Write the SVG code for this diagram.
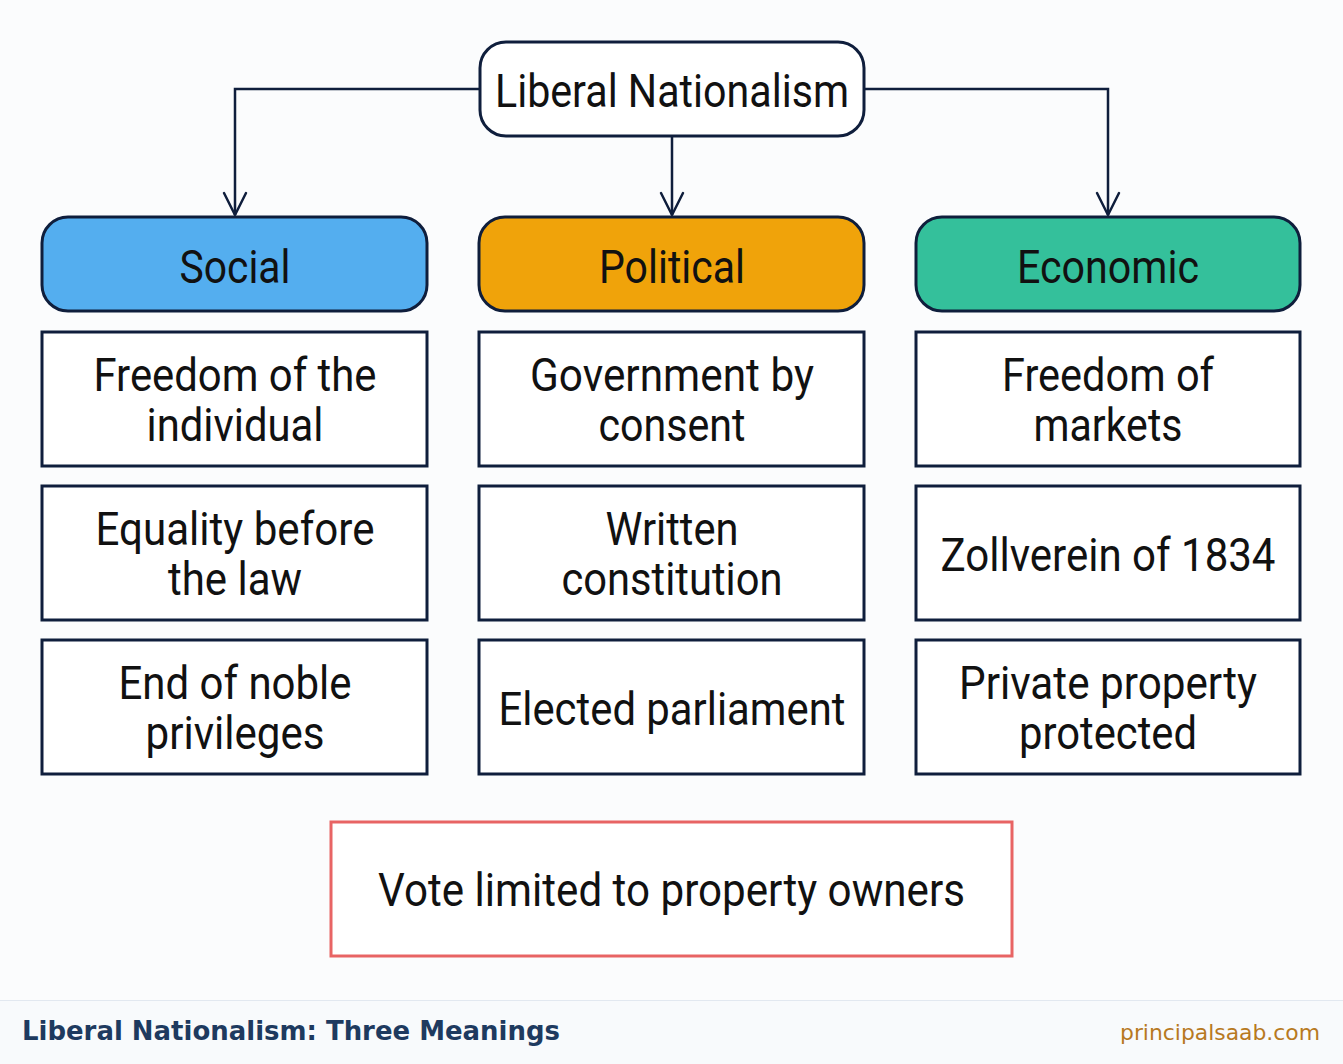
<svg xmlns="http://www.w3.org/2000/svg" width="1343" height="1064" viewBox="0 0 1343 1064">
<style>
.t{font-family:Roboto,"Liberation Sans",sans-serif;font-size:47px;fill:#111111;text-anchor:middle}
.box{fill:#ffffff;stroke:#0f1e3c;stroke-width:3}
.hdr{stroke:#0f1e3c;stroke-width:3}
.con{fill:none;stroke:#0f1e3c;stroke-width:2.5}
.arr{fill:none;stroke:#0f1e3c;stroke-width:2.5;stroke-linecap:round;stroke-linejoin:round}
</style>
<rect x="0" y="0" width="1343" height="1064" fill="#fbfcfd"/>
<g id="connectors">
<path class="con" d="M480,89 H235 V215"/>
<path class="con" d="M672,136 V215"/>
<path class="con" d="M864,89 H1108 V215"/>
<path class="arr" d="M224,193 L235,215 L246,193"/>
<path class="arr" d="M661,193 L672,215 L683,193"/>
<path class="arr" d="M1097,193 L1108,215 L1119,193"/>
</g>
<g id="root">
<rect class="box" x="480" y="42" width="384" height="94" rx="26"/>
<text class="t" x="672" y="107" textLength="354" lengthAdjust="spacingAndGlyphs">Liberal Nationalism</text>
</g>
<g id="social">
<rect class="hdr" x="42" y="217" width="385" height="94" rx="26" fill="#54aeef"/>
<text class="t" x="235" y="283" textLength="111" lengthAdjust="spacingAndGlyphs">Social</text>
</g>
<g id="political">
<rect class="hdr" x="479" y="217" width="385" height="94" rx="26" fill="#f0a30a"/>
<text class="t" x="672" y="283" textLength="146" lengthAdjust="spacingAndGlyphs">Political</text>
</g>
<g id="economic">
<rect class="hdr" x="916" y="217" width="384" height="94" rx="26" fill="#34c09b"/>
<text class="t" x="1108" y="283" textLength="182" lengthAdjust="spacingAndGlyphs">Economic</text>
</g>
<g id="s1">
<rect class="box" x="42" y="332" width="385" height="134"/>
<text class="t" x="235" y="391" textLength="283" lengthAdjust="spacingAndGlyphs">Freedom of the</text>
<text class="t" x="235" y="441" textLength="177" lengthAdjust="spacingAndGlyphs">individual</text>
</g>
<g id="s2">
<rect class="box" x="42" y="486" width="385" height="134"/>
<text class="t" x="235" y="545" textLength="279" lengthAdjust="spacingAndGlyphs">Equality before</text>
<text class="t" x="235" y="595" textLength="134" lengthAdjust="spacingAndGlyphs">the law</text>
</g>
<g id="s3">
<rect class="box" x="42" y="640" width="385" height="134"/>
<text class="t" x="235" y="699" textLength="233" lengthAdjust="spacingAndGlyphs">End of noble</text>
<text class="t" x="235" y="749" textLength="179" lengthAdjust="spacingAndGlyphs">privileges</text>
</g>
<g id="p1">
<rect class="box" x="479" y="332" width="385" height="134"/>
<text class="t" x="672" y="391" textLength="284" lengthAdjust="spacingAndGlyphs">Government by</text>
<text class="t" x="672" y="441" textLength="147" lengthAdjust="spacingAndGlyphs">consent</text>
</g>
<g id="p2">
<rect class="box" x="479" y="486" width="385" height="134"/>
<text class="t" x="672" y="545" textLength="133" lengthAdjust="spacingAndGlyphs">Written</text>
<text class="t" x="672" y="595" textLength="221" lengthAdjust="spacingAndGlyphs">constitution</text>
</g>
<g id="p3">
<rect class="box" x="479" y="640" width="385" height="134"/>
<text class="t" x="672" y="725" textLength="347" lengthAdjust="spacingAndGlyphs">Elected parliament</text>
</g>
<g id="e1">
<rect class="box" x="916" y="332" width="384" height="134"/>
<text class="t" x="1108" y="391" textLength="212" lengthAdjust="spacingAndGlyphs">Freedom of</text>
<text class="t" x="1108" y="441" textLength="149" lengthAdjust="spacingAndGlyphs">markets</text>
</g>
<g id="e2">
<rect class="box" x="916" y="486" width="384" height="134"/>
<text class="t" x="1108" y="571" textLength="335" lengthAdjust="spacingAndGlyphs">Zollverein of 1834</text>
</g>
<g id="e3">
<rect class="box" x="916" y="640" width="384" height="134"/>
<text class="t" x="1108" y="699" textLength="298" lengthAdjust="spacingAndGlyphs">Private property</text>
<text class="t" x="1108" y="749" textLength="178" lengthAdjust="spacingAndGlyphs">protected</text>
</g>
<g id="note">
<rect x="331" y="822" width="681" height="134" fill="#ffffff" stroke="#e86464" stroke-width="3"/>
<text class="t" x="671.5" y="906" textLength="587" lengthAdjust="spacingAndGlyphs">Vote limited to property owners</text>
</g>
<g id="footer">
<rect x="0" y="1000" width="1343" height="64" fill="#f8fafc"/>
<line x1="0" y1="1000.5" x2="1343" y2="1000.5" stroke="#e2e8f0" stroke-width="1"/>
<text x="22" y="1040" font-family="'DejaVu Sans',sans-serif" font-weight="bold" font-size="26" fill="#1e3a5f" textLength="538" lengthAdjust="spacingAndGlyphs">Liberal Nationalism: Three Meanings</text>
<text x="1320" y="1040" font-family="'DejaVu Sans',sans-serif" font-size="22" fill="#b7791f" text-anchor="end" textLength="200" lengthAdjust="spacingAndGlyphs">principalsaab.com</text>
</g>
</svg>
